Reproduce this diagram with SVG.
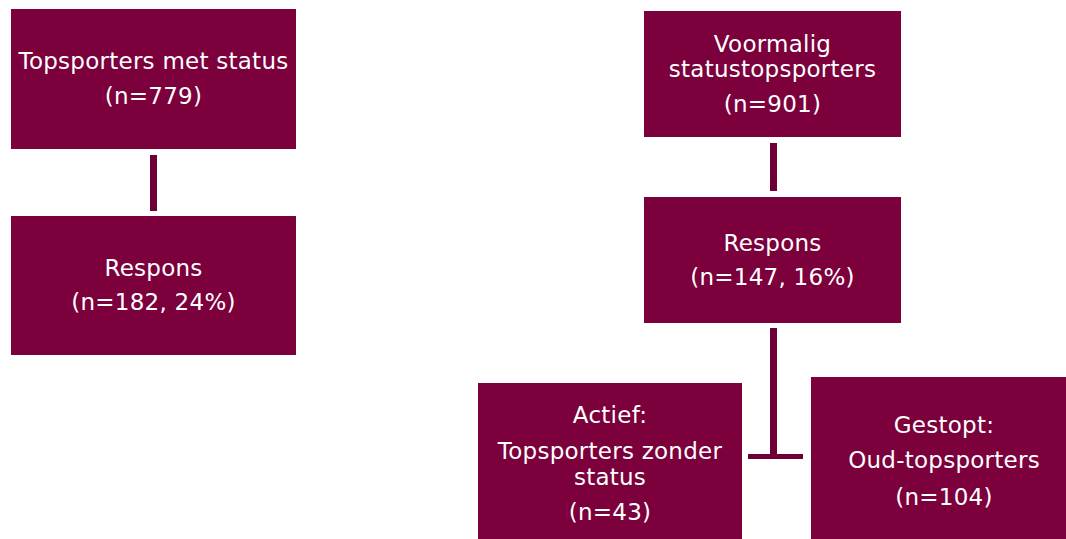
<svg xmlns="http://www.w3.org/2000/svg" width="1066" height="539" viewBox="0 0 1066 539">
<style>
.box{fill:#7b003c}
.t{font-family:"DejaVu Sans","Liberation Sans",sans-serif;font-size:23px;letter-spacing:0.25px;fill:#ffffff;text-anchor:middle}
.c{fill:#6f0036}
</style>
<rect width="1066" height="539" fill="#ffffff"/>
<g id="connectors">
<rect class="c" x="150" y="155" width="7" height="56"/>
<rect class="c" x="770" y="143" width="7" height="48"/>
<rect class="c" x="770" y="328" width="7" height="131"/>
<rect class="c" x="748" y="454" width="55" height="5"/>
</g>
<g id="topsporters-met-status">
<rect class="box" x="11" y="9" width="285" height="140"/>
<text class="t" x="153.5" y="69">Topsporters met status</text>
<text class="t" x="153.5" y="104">(n=779)</text>
</g>
<g id="respons-left">
<rect class="box" x="11" y="216" width="285" height="139"/>
<text class="t" x="153.5" y="276">Respons</text>
<text class="t" x="153.5" y="310">(n=182, 24%)</text>
</g>
<g id="voormalig">
<rect class="box" x="644" y="11" width="257" height="126"/>
<text class="t" x="772.5" y="52">Voormalig</text>
<text class="t" x="772.5" y="77">statustopsporters</text>
<text class="t" x="772.5" y="112">(n=901)</text>
</g>
<g id="respons-right">
<rect class="box" x="644" y="197" width="257" height="126"/>
<text class="t" x="772.5" y="251">Respons</text>
<text class="t" x="772.5" y="285">(n=147, 16%)</text>
</g>
<g id="actief">
<rect class="box" x="478" y="383" width="264" height="170"/>
<text class="t" x="610" y="423">Actief:</text>
<text class="t" x="610" y="459">Topsporters zonder</text>
<text class="t" x="610" y="485">status</text>
<text class="t" x="610" y="520">(n=43)</text>
</g>
<g id="gestopt">
<rect class="box" x="811" y="377" width="266" height="176"/>
<text class="t" x="944" y="433">Gestopt:</text>
<text class="t" x="944" y="468">Oud-topsporters</text>
<text class="t" x="944" y="505">(n=104)</text>
</g>
</svg>
